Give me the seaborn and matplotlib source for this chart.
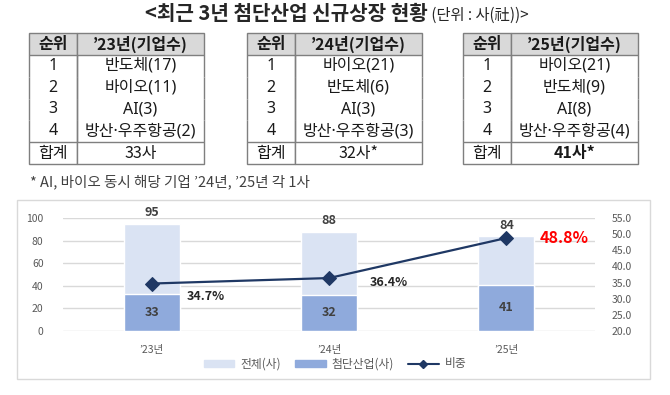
import matplotlib
matplotlib.use("Agg")
import matplotlib.pyplot as plt
from matplotlib.patches import Rectangle, Patch
from matplotlib.lines import Line2D
import numpy as np
import pandas as pd
import seaborn as sns

# data
years = ["’23년", "’24년", "’25년"]
total_cnt = [95, 88, 84]
adv_cnt = [33, 32, 41]
adv_share = [34.7, 36.4, 48.8]

rank = ["1", "2", "3", "4"]
table_heads = ["’23년(기업수)", "’24년(기업수)", "’25년(기업수)"]
table_rows = [
    ["반도체(17)", "바이오(11)", "AI(3)", "방산·우주항공(2)"],
    ["바이오(21)", "반도체(6)", "AI(3)", "방산·우주항공(3)"],
    ["바이오(21)", "반도체(9)", "AI(8)", "방산·우주항공(4)"],
]
table_sums = ["33사", "32사*", "41사*"]

title_main = "<최근 3년 첨단산업 신규상장 현황"
title_unit = " (단위 : 사(社))>"
footnote = "* AI, 바이오 동시 해당 기업 ’24년, ’25년 각 1사"

light = "#dae3f3"
dark = "#8faadc"
navy = "#1f3864"
grey_txt = "#595959"

sns.set_theme(style="white")
plt.rcParams["font.family"] = ["Noto Sans CJK KR", "DejaVu Sans"]
# regular table text: narrow middle dot from Noto Sans, hangul from the CJK family
mixed = ["Noto Sans", "Noto Sans CJK KR"]

W, H = 670, 395
fig = plt.figure(figsize=(W / 100, H / 100), dpi=100)

def fx(px):
    return px / W

def fy(px):
    return 1 - px / H

# title
fig.text(fx(428), fy(14), title_main, ha="right", va="center",
         fontsize=14.5, fontweight="bold", color="#262626")
fig.text(fx(428), fy(15), title_unit, ha="left", va="center",
         fontsize=11, color="#262626")

# three small tables
tab_lefts = [29, 247, 463]
tab_w, tab_top, tab_bot = 175, 33, 164
for i in range(3):
    tax = fig.add_axes([fx(tab_lefts[i]), fy(tab_bot), fx(tab_w), (tab_bot - tab_top) / H])
    tax.axis("off")
    cells = [["순위", table_heads[i]]]
    cells += [[r, v] for r, v in zip(rank, table_rows[i])]
    cells += [["합계", table_sums[i]]]
    tb = tax.table(cellText=cells, colWidths=[0.275, 0.725], cellLoc="center",
                   bbox=[0, 0, 1, 1])
    tb.auto_set_font_size(False)
    tb.set_fontsize(11.5)
    nrow = len(cells)
    for (r, c), cell in tb.get_celld().items():
        cell.set_edgecolor("#7f7f7f")
        cell.set_linewidth(1)
        txt = cell.get_text()
        txt.set_color("#1a1a1a")
        if r == 0:
            cell.set_facecolor("#d9d9d9")
            txt.set_fontweight("bold")
        elif r == nrow - 1:
            if i == 2 and c == 1:
                txt.set_fontweight("bold")
        else:
            cell.visible_edges = "LR"
            txt.set_fontfamily(mixed)

fig.text(fx(30), fy(182), footnote, ha="left", va="center", fontsize=10.5, color="#404040")

# chart panel frame
fig.patches.append(Rectangle((fx(17), fy(379)), fx(633), (379 - 200) / H,
                             transform=fig.transFigure, facecolor="none",
                             edgecolor="#d9d9d9", linewidth=1, zorder=-1))

ax = fig.add_axes([fx(63), fy(331), fx(595 - 63), (331 - 218) / H])
ax.patch.set_alpha(0)
df = pd.DataFrame({"year": years, "total": total_cnt, "adv": adv_cnt, "share": adv_share})

sns.barplot(data=df, x="year", y="total", color=light, saturation=1, width=0.315, ax=ax)
sns.barplot(data=df, x="year", y="adv", color=dark, saturation=1, width=0.315, ax=ax)
ax.set_xlim(-0.5, 2.5)
ax.set_ylim(0, 100)
ax.set_yticks(range(0, 101, 20))
ax.yaxis.grid(True, color="#d9d9d9", linewidth=1)
ax.set_axisbelow(True)
for s in ax.spines.values():
    s.set_visible(False)
ax.set_xlabel("")
ax.set_ylabel("")
ax.tick_params(axis="both", length=0, labelsize=7.5, colors=grey_txt)
ax.tick_params(axis="x", pad=10)
ax.tick_params(axis="y", pad=14)

ax.bar_label(ax.containers[0], padding=3, fontsize=9, fontweight="bold", color="#404040")
ax.bar_label(ax.containers[1], label_type="center", fontsize=9, fontweight="bold", color="#404040")

ax2 = ax.twinx()
ax2.patch.set_alpha(0)
sns.lineplot(x=np.arange(len(years)), y=df["share"], ax=ax2, color=navy, linewidth=1.6,
             marker="D", markersize=7, markeredgecolor=navy)
ax2.set_ylim(20, 55)
ax2.set_yticks(np.arange(20, 55.1, 5))
ax2.set_yticklabels([f"{v:.1f}" for v in np.arange(20, 55.1, 5)])
ax2.set_ylabel("")
for s in ax2.spines.values():
    s.set_visible(False)
ax2.tick_params(axis="y", length=0, labelsize=7.5, colors=grey_txt, pad=12)

offsets = [(25, -9), (29, -3), (24, 0)]
for i, v in enumerate(adv_share):
    last = i == len(adv_share) - 1
    ax2.annotate(f"{v}%", (i, v), xytext=offsets[i], textcoords="offset points",
                 ha="left", va="center", fontweight="bold",
                 fontsize=11.5 if last else 9, color="#ff0000" if last else "#262626")

handles = [Patch(color=light), Patch(color=dark),
           Line2D([], [], color=navy, marker="D", markersize=4, linewidth=1.5)]
fig.legend(handles, ["전체(사)", "첨단산업(사)", "비중"], loc="center",
           bbox_to_anchor=(fx(335), fy(364)), ncol=3, frameon=False, fontsize=8.5,
           labelcolor=grey_txt, handlelength=2.6, handleheight=0.5, columnspacing=1.2,
           handletextpad=0.5)

fig.savefig("out.png", dpi=100)
